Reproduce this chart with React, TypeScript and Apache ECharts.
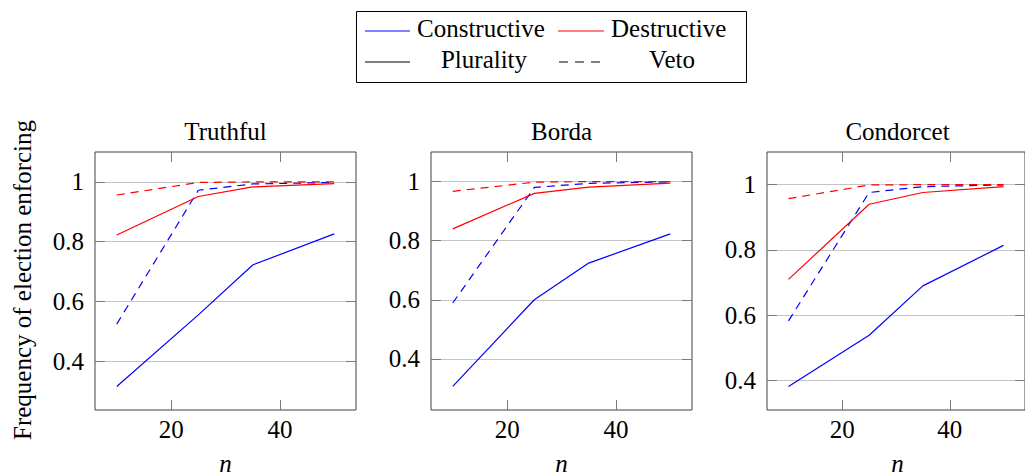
import React, { useEffect, useRef } from "react";
import * as echarts from "echarts";

// ---------- data ----------
const nValues = [10, 25, 35, 50];
const panelTitles = ["Truthful", "Borda", "Condorcet"];
const xTickValues = [20, 40];
const yTickValues = [0.4, 0.6, 0.8, 1];

// Truthful
const truthfulConstructivePlurality = [0.315, 0.555, 0.722, 0.826];
const truthfulConstructiveVeto = [0.524, 0.972, 0.993, 0.998];
const truthfulDestructivePlurality = [0.822, 0.951, 0.983, 0.994];
const truthfulDestructiveVeto = [0.956, 0.998, 1.0, 1.0];

// Borda
const bordaConstructivePlurality = [0.307, 0.6, 0.724, 0.823];
const bordaConstructiveVeto = [0.589, 0.98, 0.994, 0.999];
const bordaDestructivePlurality = [0.84, 0.96, 0.981, 0.995];
const bordaDestructiveVeto = [0.967, 0.998, 1.0, 1.0];

// Condorcet
const condorcetConstructivePlurality = [0.382, 0.539, 0.69, 0.814];
const condorcetConstructiveVeto = [0.583, 0.976, 0.994, 0.999];
const condorcetDestructivePlurality = [0.71, 0.94, 0.976, 0.994];
const condorcetDestructiveVeto = [0.957, 0.999, 1.0, 1.0];

const yMins = [0.2365, 0.227, 0.31];
const yMax = 1.1;
const xMin = 6;
const xMax = 54;

const legendLabels = ["Constructive", "Destructive", "Plurality", "Veto"];
const xAxisName = "n";
const yAxisName = "Frequency of election enforcing";

// ---------- styling ----------
const FONT = "Liberation Serif";
const FS = 25;
const BLUE = "#0000ff";
const RED = "#ff0000";
const DASH = [8, 6];

const panelLefts = [95, 431, 767];
const panelWidth = 261;
const panelTop = 152;
const panelHeight = 258;

const panelSeries = [
  [truthfulConstructivePlurality, truthfulConstructiveVeto, truthfulDestructivePlurality, truthfulDestructiveVeto],
  [bordaConstructivePlurality, bordaConstructiveVeto, bordaDestructivePlurality, bordaDestructiveVeto],
  [condorcetConstructivePlurality, condorcetConstructiveVeto, condorcetDestructivePlurality, condorcetDestructiveVeto],
];
const seriesKinds = [
  { name: "Constructive Plurality", color: BLUE, dashed: false },
  { name: "Constructive Veto", color: BLUE, dashed: true },
  { name: "Destructive Plurality", color: RED, dashed: false },
  { name: "Destructive Veto", color: RED, dashed: true },
];

function buildOption() {
  const grid: any[] = [];
  const xAxis: any[] = [];
  const yAxis: any[] = [];
  const series: any[] = [];
  const graphic: any[] = [];

  const tickStyle = { color: "#7a7a7a", width: 1 };

  panelTitles.forEach((title, i) => {
    grid.push({
      left: panelLefts[i],
      top: panelTop,
      width: panelWidth,
      height: panelHeight,
      show: true,
      borderColor: "#404040",
      borderWidth: 1,
    });
    xAxis.push({
      gridIndex: i,
      type: "value",
      min: xMin,
      max: xMax,
      position: "bottom",
      axisLine: { show: false },
      axisTick: { show: true, inside: true, length: 10, lineStyle: tickStyle, customValues: xTickValues },
      axisLabel: { show: true, customValues: xTickValues, margin: 7, fontFamily: FONT, fontSize: FS, color: "#000" },
      splitLine: { show: false },
    });
    xAxis.push({
      gridIndex: i,
      type: "value",
      min: xMin,
      max: xMax,
      position: "top",
      axisLine: { show: false },
      axisTick: { show: true, inside: true, length: 10, lineStyle: tickStyle, customValues: xTickValues },
      axisLabel: { show: false, customValues: xTickValues },
      splitLine: { show: false },
    });
    yAxis.push({
      gridIndex: i,
      type: "value",
      min: yMins[i],
      max: yMax,
      position: "left",
      axisLine: { show: false },
      axisTick: { show: true, inside: true, length: 10, lineStyle: tickStyle, customValues: yTickValues },
      axisLabel: { show: true, customValues: yTickValues, margin: 11, fontFamily: FONT, fontSize: FS, color: "#000" },
      splitLine: { show: true, lineStyle: { color: "#c4c4c4", width: 1 } },
    });
    yAxis.push({
      gridIndex: i,
      type: "value",
      min: yMins[i],
      max: yMax,
      position: "right",
      axisLine: { show: false },
      axisTick: { show: true, inside: true, length: 10, lineStyle: tickStyle, customValues: yTickValues },
      axisLabel: { show: false, customValues: yTickValues },
      splitLine: { show: false },
    });

    panelSeries[i].forEach((vals, k) => {
      const kind = seriesKinds[k];
      series.push({
        name: `${title} ${kind.name}`,
        type: "line",
        xAxisIndex: 2 * i,
        yAxisIndex: 2 * i,
        data: nValues.map((n, j) => [n, vals[j]]),
        showSymbol: false,
        symbol: "none",
        lineStyle: { color: kind.color, width: 1.2, type: kind.dashed ? DASH : "solid" },
        itemStyle: { color: kind.color },
        z: 3,
      });
    });

    graphic.push({
      type: "text",
      x: panelLefts[i] + panelWidth / 2,
      y: 131,
      style: {
        text: title,
        font: `${FS}px Liberation Serif`,
        fill: "#000",
        align: "center",
        verticalAlign: "middle",
      },
    });
    graphic.push({
      type: "text",
      x: panelLefts[i] + panelWidth / 2,
      y: 463,
      style: {
        text: xAxisName,
        font: `italic ${FS}px Liberation Serif`,
        fill: "#000",
        align: "center",
        verticalAlign: "middle",
      },
    });
  });

  graphic.push({
    type: "text",
    x: 22,
    y: 280,
    rotation: Math.PI / 2,
    style: {
      text: yAxisName,
      font: `${FS}px Liberation Serif`,
      fill: "#000",
      align: "center",
      verticalAlign: "middle",
    },
  });

  graphic.push({
    type: "rect",
    shape: { x: 356.5, y: 11.5, width: 390, height: 71 },
    style: { fill: "#fff", stroke: "#000", lineWidth: 1 },
    z: 10,
  });
  const legendLines = [
    { x1: 365, x2: 410, y: 31, color: BLUE, dashed: false },
    { x1: 558, x2: 604, y: 31, color: RED, dashed: false },
    { x1: 365, x2: 410, y: 62, color: "#000", dashed: false },
    { x1: 559, x2: 601, y: 62, color: "#000", dashed: true },
  ];
  legendLines.forEach((l) => {
    const style: any = { stroke: l.color, lineWidth: 1.2 };
    if (l.dashed) style.lineDash = [9, 7];
    graphic.push({
      type: "line",
      shape: { x1: l.x1, y1: l.y, x2: l.x2, y2: l.y },
      style,
      z: 11,
    });
  });
  const legendTexts = [
    { x: 417, y: 28, align: "left" },
    { x: 611, y: 28, align: "left" },
    { x: 484, y: 59, align: "center" },
    { x: 672, y: 59, align: "center" },
  ];
  legendTexts.forEach((t, i) => {
    graphic.push({
      type: "text",
      x: t.x,
      y: t.y,
      z: 11,
      style: {
        text: legendLabels[i],
        fontFamily: FONT,
        fontSize: FS,
        fill: "#000",
        align: t.align,
        verticalAlign: "middle",
      },
    });
  });

  return {
    animation: false,
    grid,
    xAxis,
    yAxis,
    series,
    graphic,
  };
}

export default function App() {
  const ref = useRef<HTMLDivElement>(null);
  useEffect(() => {
    if (!ref.current) return;
    const chart = echarts.init(ref.current, undefined, { renderer: "svg" });
    chart.setOption(buildOption() as any);
    return () => chart.dispose();
  }, []);
  return (
    <div
      ref={ref}
      style={{ position: "absolute", left: 0, top: 0, width: 1025, height: 475, background: "#fff" }}
    />
  );
}
